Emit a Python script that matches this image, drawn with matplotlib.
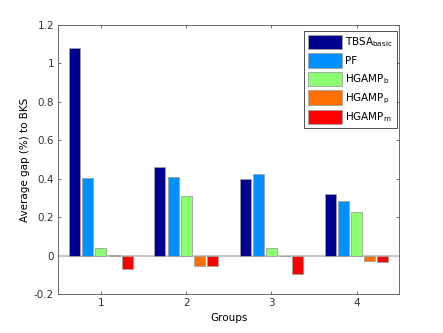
import matplotlib
matplotlib.use("Agg")
import matplotlib.pyplot as plt
import numpy as np

groups = [1, 2, 3, 4]
series_names = ["TBSA$_\\mathregular{basic}$", "PF", "HGAMP$_\\mathregular{b}$",
                "HGAMP$_\\mathregular{p}$", "HGAMP$_\\mathregular{m}$"]
tbsa = [1.08, 0.46, 0.40, 0.324]
pf = [0.403, 0.409, 0.424, 0.286]
hgamp_b = [0.041, 0.309, 0.041, 0.229]
hgamp_p = [0.003, -0.052, 0.001, -0.028]
hgamp_m = [-0.067, -0.055, -0.095, -0.031]
colors = ["#00008F", "#0090FF", "#8CFF6E", "#FF7000", "#FF0000"]
yticks = [-0.2, 0, 0.2, 0.4, 0.6, 0.8, 1, 1.2]
ytick_labels = ["-0.2", "0", "0.2", "0.4", "0.6", "0.8", "1", "1.2"]

plt.rcParams['font.family'] = ['DejaVu Sans']
plt.rcParams['mathtext.default'] = 'regular'

fig = plt.figure(figsize=(4.43, 3.33), dpi=100)
ax = fig.add_axes([58.3/443, 1-294.3/333, (399.3-58.3)/443, (294.3-25)/333])

x = np.array(groups, dtype=float)
data = [tbsa, pf, hgamp_b, hgamp_p, hgamp_m]
spacing = 0.154
width = 0.128
for i, (vals, c, name) in enumerate(zip(data, colors, series_names)):
    ax.bar(x + (i - 2) * spacing, vals, width, color=c, edgecolor="#a0a0a0",
           linewidth=0.6, label=name, zorder=3)

ax.axhline(0, color="#c8c8c8", linewidth=1.5, zorder=2)
ax.set_xlim(0.5, 4.5)
ax.set_ylim(-0.2, 1.2)
ax.set_xticks(groups)
ax.set_yticks(yticks)
ax.set_yticklabels(ytick_labels)
ax.tick_params(direction='in', top=True, right=True, labelsize=7.5, length=2.5,
               width=0.5, colors="#333333", pad=3)
for s in ax.spines.values():
    s.set_color("#555555")
    s.set_linewidth(0.6)
ax.set_xlabel("Groups", fontsize=7.5, labelpad=3)
ax.set_ylabel("Average gap (%) to BKS", fontsize=7.5, labelpad=3)

leg = ax.legend(loc='upper right', bbox_to_anchor=(0.992, 0.978), fontsize=7.5,
                handlelength=3.2, handleheight=1.75, labelspacing=0.38,
                handletextpad=0.3, borderpad=0.4, fancybox=False,
                framealpha=1, borderaxespad=0)
leg.get_frame().set_edgecolor("#333333")
leg.get_frame().set_linewidth(0.6)

fig.savefig("out.png", dpi=100)
